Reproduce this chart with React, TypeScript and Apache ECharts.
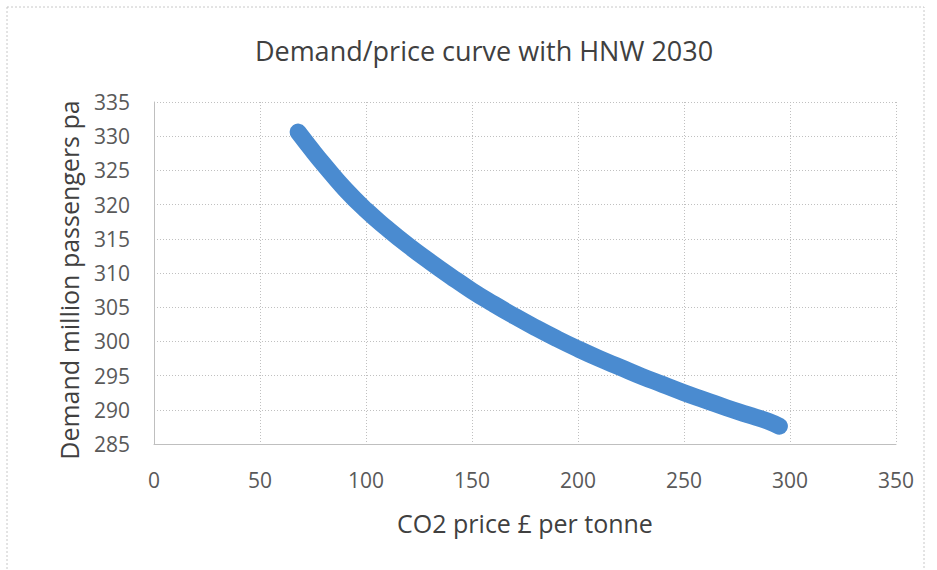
import React, { useEffect, useRef } from "react";
import * as echarts from "echarts";

const title = "Demand/price curve with HNW 2030";
const xAxisName = "CO2 price £ per tonne";
const yAxisName = "Demand million passengers pa";

const co2Price = [68, 75, 80, 90, 100, 110, 120, 130, 140, 150, 160, 170, 180, 190, 200, 210, 220, 230, 240, 250, 260, 270, 280, 290, 295];
const demand = [330.6, 327.8, 325.9, 322.3, 319.2, 316.5, 314.0, 311.7, 309.5, 307.4, 305.5, 303.7, 302.0, 300.4, 298.9, 297.5, 296.2, 294.9, 293.7, 292.5, 291.4, 290.3, 289.3, 288.3, 287.6];

const xMin = 0, xMax = 350, xStep = 50;
const yMin = 285, yMax = 335, yStep = 5;

export default function App() {
  const ref = useRef<HTMLDivElement>(null);
  useEffect(() => {
    document.body.style.margin = "0";
    if (!ref.current) return;
    const chart = echarts.init(ref.current, undefined, { renderer: "svg" });
    const font = "'Open Sans', 'Liberation Sans', sans-serif";
    chart.setOption({
      animation: false,
      backgroundColor: "#ffffff",
      title: {
        text: title,
        left: 479,
        textAlign: "center",
        top: 32,
        textStyle: { fontFamily: font, fontSize: 27, fontWeight: "normal", color: "#404040" },
      },
      graphic: [
        {
          type: "rect",
          shape: { x: 7, y: 7, width: 917, height: 620 },
          style: { fill: "none", stroke: "#c8c8c8", lineWidth: 1, lineDash: [2, 2] },
          silent: true,
        },
      ],
      grid: { left: 154, right: 41, top: 102, bottom: 126, containLabel: false },
      xAxis: {
        type: "value",
        min: xMin,
        max: xMax,
        interval: xStep,
        name: xAxisName,
        nameLocation: "middle",
        nameGap: 66,
        nameTextStyle: { fontFamily: font, fontSize: 25, color: "#404040" },
        axisLine: { show: true, lineStyle: { color: "#bfbfbf", width: 1 } },
        axisTick: { show: false },
        axisLabel: { fontFamily: font, fontSize: 21, color: "#595959", margin: 25 },
        splitLine: { show: true, lineStyle: { color: "#c0c0c0", type: [1, 2], width: 1 } },
      },
      yAxis: {
        type: "value",
        min: yMin,
        max: yMax,
        interval: yStep,
        name: yAxisName,
        nameLocation: "middle",
        nameGap: 73,
        nameTextStyle: { fontFamily: font, fontSize: 25, color: "#404040", padding: [0, 14, 0, 0] },
        axisLine: { show: true, lineStyle: { color: "#bfbfbf", width: 1 } },
        axisTick: { show: false },
        axisLabel: { fontFamily: font, fontSize: 21, color: "#595959", margin: 24 },
        splitLine: { show: true, lineStyle: { color: "#c0c0c0", type: [1, 2], width: 1 } },
      },
      series: [
        {
          type: "line",
          data: co2Price.map((x, i) => [x, demand[i]]),
          smooth: true,
          showSymbol: false,
          lineStyle: { color: "#4a8bd0", width: 17, cap: "round", join: "round" },
        },
      ],
    });
    return () => chart.dispose();
  }, []);
  return <div ref={ref} style={{ width: 937, height: 570 }} />;
}
